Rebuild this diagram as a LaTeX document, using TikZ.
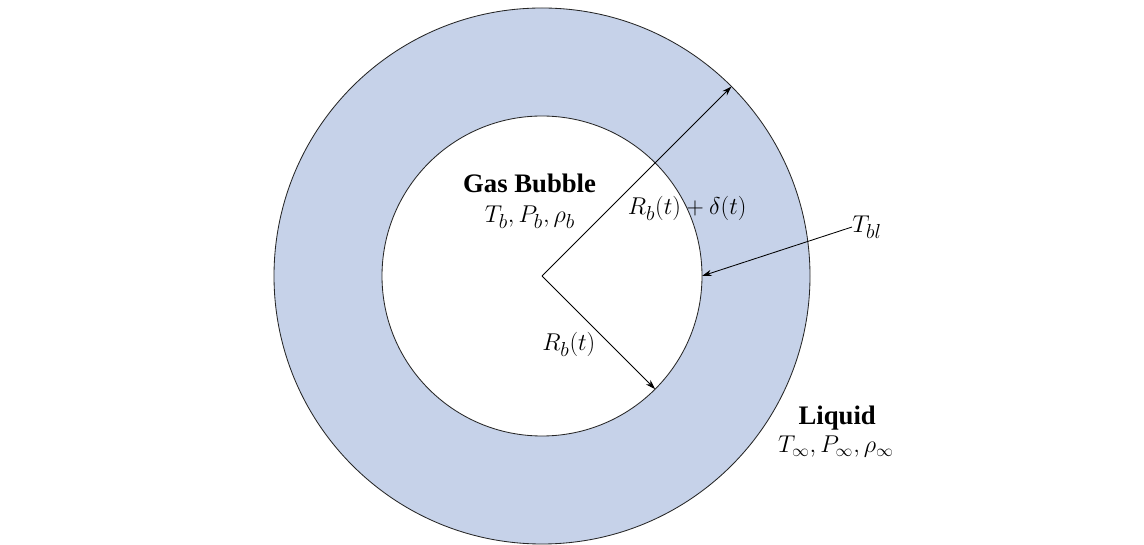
\documentclass[tikz,border=0pt]{standalone}
\usepackage{fontspec}
\setmainfont{Liberation Serif}
\usetikzlibrary{arrows.meta}
\definecolor{liquidblue}{RGB}{198,210,233}
\begin{document}
\begin{tikzpicture}[
  wall/.style={draw=black!85,line width=0.6pt},
  lbl/.style={font=\fontsize{19}{23}\selectfont,inner sep=0pt,anchor=base},
  radiusarrow/.style={-{Stealth[length=7pt,width=4.5pt]},line width=0.6pt}]
  \useasboundingbox (0,0) rectangle (28.6,13.625);
  \coordinate (c) at (13.55,6.725);
  % Liquid shell and gas bubble
  \draw[wall,fill=liquidblue] (c) circle (6.7);
  \draw[wall,fill=white] (c) circle (4);
  % Radii
  \coordinate (rout) at ([shift={(45:6.7)}]c);
  \coordinate (rin) at ([shift={(-45:4)}]c);
  \coordinate (bl) at ([shift={(0:4)}]c);
  \draw[radiusarrow] (c) -- (rout);
  \draw[radiusarrow] (c) -- (rin);
  % Labels
  \node[lbl] (gas) at (13.24,8.8) {\textbf{Gas Bubble}};
  \node[lbl] (gasprop) at (13.25,8.05) {$T_b, P_b, \rho_b$};
  \node[lbl] (rdelta) at (17.18,8.25) {$R_b(t)+\delta(t)$};
  \node[lbl] (rb) at (14.22,4.85) {$R_b(t)$};
  \node[lbl,anchor=west] (tbl) at (21.3,7.95) {$T_{bl}$};
  \node[lbl] (liq) at (20.93,3.0) {\textbf{Liquid}};
  \node[lbl,font=\fontsize{17}{20}\selectfont] (liqprop) at (20.9,2.3) {$T_\infty, P_\infty, \rho_\infty$};
  \draw[radiusarrow] (tbl.west) -- (bl);
\end{tikzpicture}
\end{document}
